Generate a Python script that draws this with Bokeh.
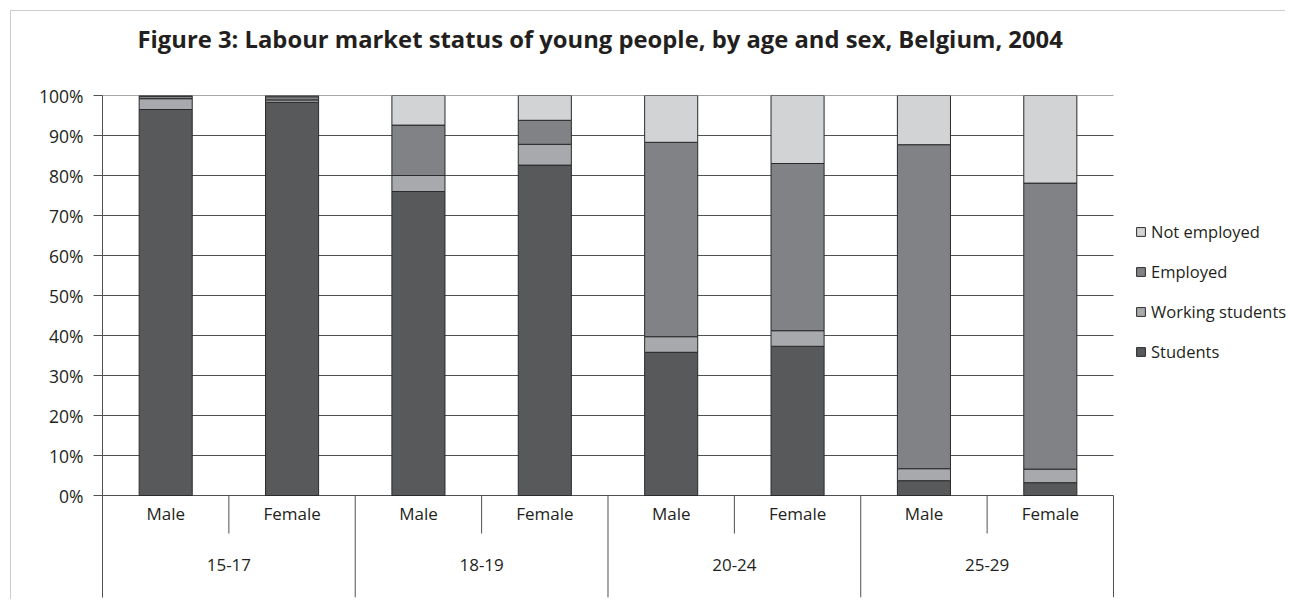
from bokeh.plotting import figure
from bokeh.models import (ColumnDataSource, FixedTicker, PrintfTickFormatter,
                          Legend, LegendItem, Title, Range1d)
from bokeh.embed import file_html
from bokeh.resources import INLINE
from bokeh.core.properties import value

# ---- data ----
age_groups = ["15-17", "18-19", "20-24", "25-29"]
sexes = ["Male", "Female"]
students = [96.5, 98.3, 76.0, 82.6, 35.8, 37.3, 3.7, 3.2]
working_students = [2.7, 0.6, 4.0, 5.2, 3.9, 3.9, 3.0, 3.4]
employed = [0.6, 0.8, 12.6, 6.0, 48.6, 41.8, 81.0, 71.5]
not_employed = [0.2, 0.3, 7.4, 6.2, 11.7, 17.0, 12.3, 21.9]
series_names = ["Students", "Working students", "Employed", "Not employed"]
y_ticks = [0, 10, 20, 30, 40, 50, 60, 70, 80, 90, 100]

FONT = "Open Sans"
TXT = "#231f20"
LINE = "#505050"
colors = ["#58595b", "#a7a9ac", "#808285", "#d1d3d4"]

n_cat = len(age_groups) * len(sexes)
x_pos = [i + 0.5 for i in range(n_cat)]
sex_labels = [sexes[i % len(sexes)] for i in range(n_cat)]

source = ColumnDataSource(dict(x=x_pos, Students=students,
                               **{"Working students": working_students},
                               Employed=employed,
                               **{"Not employed": not_employed}))

p = figure(width=1275, height=589, output_backend="svg", toolbar_location=None,
           x_range=Range1d(0, 9.369), y_range=Range1d(-25.5, 100),
           x_axis_location=None, min_border_left=91, min_border_right=0,
           min_border_top=84, min_border_bottom=3)
p.styles = {"border-left": "1px solid #cccccc", "border-top": "1px solid #cccccc",
            "margin-left": "10px", "margin-top": "10px"}
p.outline_line_color = None
p.xgrid.visible = False
p.ygrid.visible = False

# y axis
p.yaxis.ticker = FixedTicker(ticks=y_ticks)
p.yaxis.formatter = PrintfTickFormatter(format="%d%%")
p.yaxis.axis_line_color = LINE
p.yaxis.major_tick_line_color = LINE
p.yaxis.major_tick_out = 9
p.yaxis.major_tick_in = 0
p.yaxis.minor_tick_line_color = None
p.yaxis.major_label_standoff = 10
p.yaxis.major_label_text_font = FONT
p.yaxis.major_label_text_font_size = "17.5px"
p.yaxis.major_label_text_color = TXT

# horizontal gridlines over the category area only
p.segment(x0=[0] * len(y_ticks), y0=y_ticks, x1=[n_cat] * len(y_ticks), y1=y_ticks,
          line_color=LINE, line_width=1)

# bars
renderers = p.vbar_stack(series_names, x="x", width=0.42, source=source,
                         fill_color=colors, line_color="#2a2a2a", line_width=1)

# category separators
bx = list(range(n_cat + 1))
by1 = [-25.5 if i % len(sexes) == 0 else -9.5 for i in bx]
p.segment(x0=bx, y0=[0] * len(bx), x1=bx, y1=by1, line_color=LINE, line_width=1)

# labels
p.text(x=x_pos, y=[-4.6] * n_cat, text=sex_labels, text_align="center",
       text_baseline="middle", text_font=value(FONT), text_font_size="17px",
       text_color=TXT)
gx = [g * len(sexes) + len(sexes) / 2 for g in range(len(age_groups))]
p.text(x=gx, y=[-17.3] * len(age_groups), text=age_groups, text_align="center",
       text_baseline="middle", text_font=value(FONT), text_font_size="17px",
       text_color=TXT)

# title (a thin spacer panel sits between the title and the plot area)
spacer = Title(text=" ", text_font_size="2px", standoff=37)
p.add_layout(spacer, "above")
title = Title(text="Figure 3: Labour market status of young people, by age and sex, Belgium, 2004",
              align="left", offset=35, text_font=FONT, text_font_size="23.8px",
              text_font_style="bold", text_color=TXT, standoff=0)
p.add_layout(title, "above")

# legend
items = [LegendItem(label=series_names[i], renderers=[renderers[i]])
         for i in reversed(range(len(series_names)))]
legend = Legend(items=items, location=(1033, 234), glyph_width=11, glyph_height=11,
                label_height=20, spacing=17, padding=0, margin=0, label_standoff=5,
                border_line_color=None, background_fill_alpha=0,
                label_text_font=FONT, label_text_font_size="16.5px",
                label_text_color=TXT)
p.add_layout(legend)

open("out.html", "w").write(file_html(p, INLINE))
